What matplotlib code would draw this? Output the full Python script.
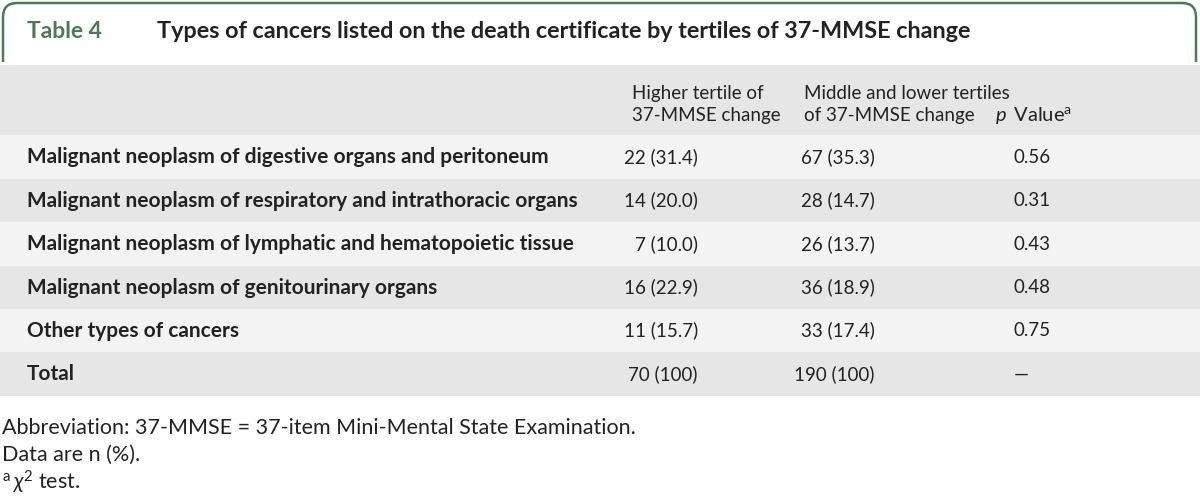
import matplotlib
matplotlib.use("Agg")
import matplotlib.pyplot as plt
from matplotlib.patches import Rectangle, FancyBboxPatch

# table content
table_no = "Table 4"
title = "Types of cancers listed on the death certificate by tertiles of 37-MMSE change"
col_heads = [["Higher tertile of", "37-MMSE change"],
             ["Middle and lower tertiles", "of 37-MMSE change"]]
row_labels = [
    "Malignant neoplasm of digestive organs and peritoneum",
    "Malignant neoplasm of respiratory and intrathoracic organs",
    "Malignant neoplasm of lymphatic and hematopoietic tissue",
    "Malignant neoplasm of genitourinary organs",
    "Other types of cancers",
    "Total",
]
higher = ["22 (31.4)", "14 (20.0)", "7 (10.0)", "16 (22.9)", "11 (15.7)", "70 (100)"]
middle_lower = ["67 (35.3)", "28 (14.7)", "26 (13.7)", "36 (18.9)", "33 (17.4)", "190 (100)"]
p_values = ["0.56", "0.31", "0.43", "0.48", "0.75", "\u2014"]
footnotes = [
    "Abbreviation: 37-MMSE = 37-item Mini-Mental State Examination.",
    "Data are n (%).",
    r"$^{\mathrm{a}}\,\chi^2$ test.",
]

plt.rcParams["mathtext.fontset"] = "custom"
plt.rcParams["mathtext.rm"] = "Lato"
plt.rcParams["mathtext.it"] = "Lato:italic"
plt.rcParams["mathtext.fallback"] = "stixsans"

green = "#4c7a52"
dark_row = "#e6e6e6"
light_row = "#f3f3f3"
txt = "#222222"
font = "Lato"

fig = plt.figure(figsize=(12, 4.98), dpi=100)
ax = fig.add_axes([0, 0, 1, 1])
ax.set_xlim(0, 1200)
ax.set_ylim(498, 0)
ax.axis("off")

# title box with open bottom
box = FancyBboxPatch((3, 3), 1193, 100, boxstyle="round,pad=0,rounding_size=14",
                     fc="white", ec=green, lw=1.8, zorder=1)
ax.add_patch(box)
ax.add_patch(Rectangle((0, 62), 1200, 200, fc="white", ec="none", zorder=2))
ax.text(27, 31, table_no, color=green, fontsize=16.5, fontweight="bold", family=font,
        va="center", zorder=5)
ax.text(157, 31, title, color=txt, fontsize=16.8, fontweight="bold", family=font,
        va="center", zorder=5)

# header band
ax.add_patch(Rectangle((0, 65), 1200, 70, fc=dark_row, ec="none", zorder=3))
for x, lines in zip([632, 804], col_heads):
    for j, line in enumerate(lines):
        ax.text(x, 93 + 22 * j, line, color=txt, fontsize=13.5, family=font,
                va="center", zorder=5)
ax.text(995, 115, "$\\mathit{p}\\,$ Value$^{\\mathrm{a}}$", color=txt, fontsize=14.5,
        family=font, va="center", zorder=5)

# body rows
tops = [135, 179, 222, 266, 309, 352]
heights = [44, 43, 44, 43, 43, 44]
for i, lab in enumerate(row_labels):
    y0 = tops[i]
    h = heights[i]
    ax.add_patch(Rectangle((0, y0), 1200, h, fc=light_row if i % 2 == 0 else dark_row,
                           ec="none", zorder=3))
    yc = y0 + h / 2
    ax.text(27, yc, lab, color=txt, fontsize=15, fontweight="bold", family=font,
            va="center", zorder=5)
    ax.text(698, yc, higher[i], color=txt, fontsize=13.5, family=font, va="center",
            ha="right", zorder=5)
    ax.text(875, yc, middle_lower[i], color=txt, fontsize=13.5, family=font, va="center",
            ha="right", zorder=5)
    ax.text(1014, yc, p_values[i], color=txt, fontsize=13.5, family=font, va="center",
            zorder=5)

# footnotes
for k, note in enumerate(footnotes):
    ax.text(2, 428 + 27 * k, note, color=txt, fontsize=15.5, family=font, va="center", zorder=5)

fig.savefig("out.png", dpi=100, facecolor="white")
